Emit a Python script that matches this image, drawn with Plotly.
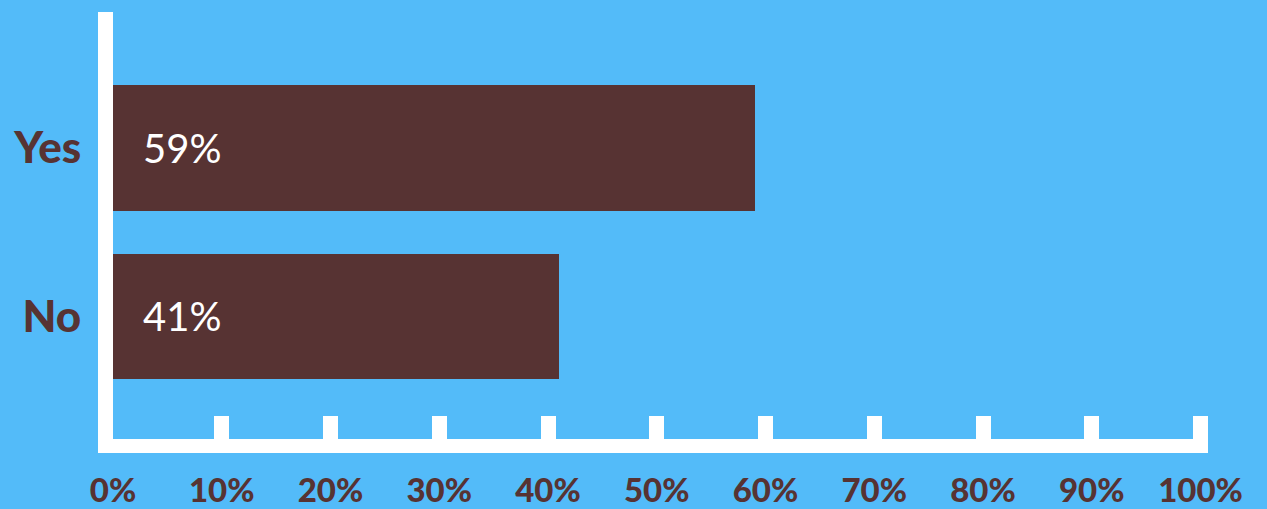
import plotly.graph_objects as go

# Survey answers and their shares (percent)
answers = ["No", "Yes"]
shares = [41, 59]
tick_values = [0, 10, 20, 30, 40, 50, 60, 70, 80, 90, 100]
tick_labels = ["0%", "10%", "20%", "30%", "40%", "50%", "60%", "70%", "80%", "90%", "100%"]

BG = "#53BBF9"
BROWN = "#573333"
WHITE = "#FFFFFF"

fig = go.Figure(
    go.Bar(
        x=shares,
        y=answers,
        orientation="h",
        width=0.742,
        marker=dict(color=BROWN, line=dict(width=0)),
        hoverinfo="skip",
    )
)

# Value labels just inside the start of each bar
for ans, val in zip(answers, shares):
    fig.add_annotation(
        x=0, y=ans, text=f"{val}%", showarrow=False,
        xanchor="left", yanchor="middle", xshift=28,
        font=dict(family="Lato", size=40, color=WHITE),
    )

fig.update_layout(
    width=1267, height=509,
    margin=dict(l=113, r=59, t=12, b=70, pad=0),
    paper_bgcolor=BG, plot_bgcolor=BG,
    showlegend=False,
    bargap=0,
)

fig.update_xaxes(
    automargin=False,
    range=[0, 100.69],
    tickvals=tick_values, ticktext=tick_labels,
    showgrid=False, zeroline=False,
    showline=True, linecolor=WHITE, linewidth=14,
    ticks="inside", ticklen=23, tickwidth=15, tickcolor=WHITE,
    tickfont=dict(family="Lato", size=33, color=BROWN, weight=900),
    ticklabelstandoff=9,
)

fig.update_yaxes(
    automargin=False,
    range=[-0.727, 1.807],
    showgrid=False, zeroline=False,
    showline=True, linecolor=WHITE, linewidth=15,
    ticks="",
    tickfont=dict(family="Lato", size=44, color=BROWN, weight=900),
    ticklabelstandoff=8,
)

fig.write_html("out.html")
